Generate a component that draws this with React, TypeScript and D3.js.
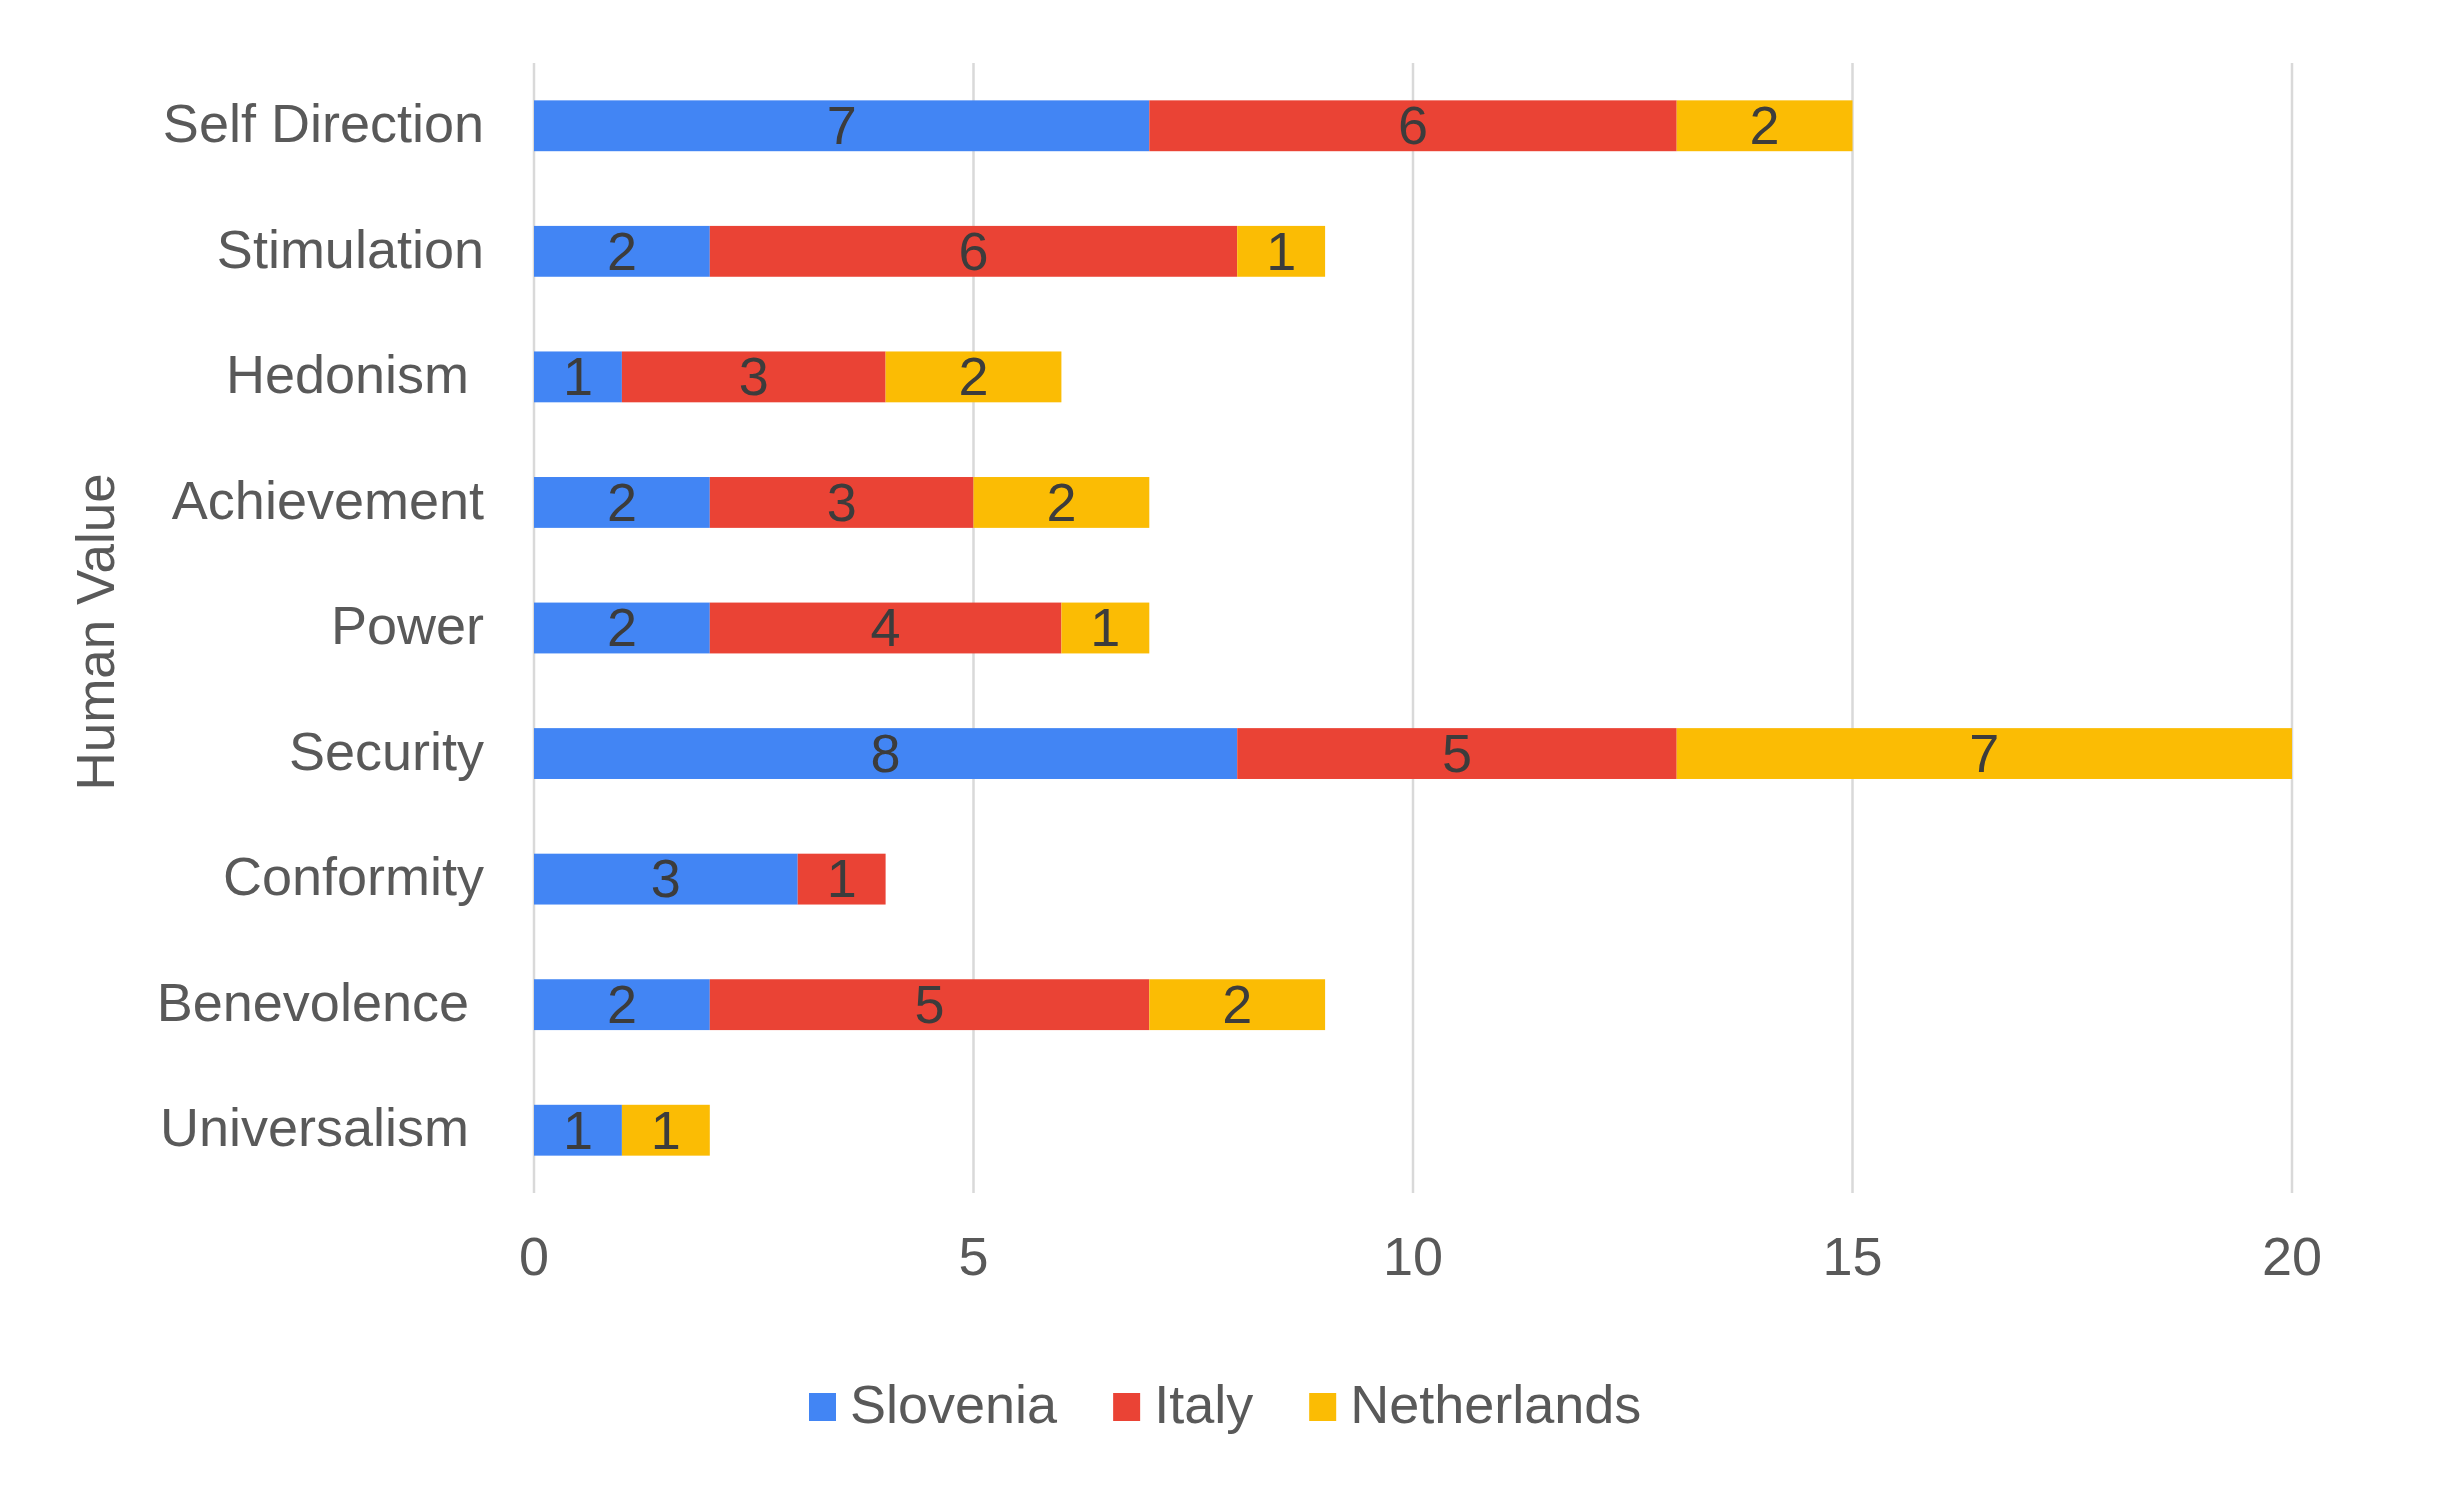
import { useEffect, useRef } from "react"
import * as d3 from "d3"

// Chart data
const categories = [
  "Self Direction",
  "Stimulation",
  "Hedonism ",
  "Achievement",
  "Power",
  "Security",
  "Conformity",
  "Benevolence ",
  "Universalism ",
]
const seriesNames = ["Slovenia", "Italy", "Netherlands"]
const slovenia = [7, 2, 1, 2, 2, 8, 3, 2, 1]
const italy = [6, 6, 3, 3, 4, 5, 1, 5, 0]
const netherlands = [2, 1, 2, 2, 1, 7, 0, 2, 1]
const xTicks = [0, 5, 10, 15, 20]
const colors = ["#4285F4", "#EA4335", "#FBBC04"]

const W = 2438
const H = 1485
const FONT = "'Liberation Sans', Arial, sans-serif"

const App = () => {
  const svgRef = useRef<SVGSVGElement>(null)

  useEffect(() => {
    if (!svgRef.current) return
    const svg = d3.select(svgRef.current)
    svg.selectAll("*").remove()

    const rows = categories.map((c, i) => ({
      category: c,
      Slovenia: slovenia[i],
      Italy: italy[i],
      Netherlands: netherlands[i],
    }))

    const x = d3.scaleLinear().domain([0, 20]).range([534, 2292])
    const y = d3
      .scaleBand<string>()
      .domain(categories)
      .range([63, 1193])
      .paddingInner(0.595)
      .paddingOuter(0.2975)

    // gridlines
    svg
      .append("g")
      .selectAll("line")
      .data(xTicks)
      .join("line")
      .attr("x1", (d) => x(d))
      .attr("x2", (d) => x(d))
      .attr("y1", 63)
      .attr("y2", 1193)
      .attr("stroke", "#d9d9d9")
      .attr("stroke-width", 2.5)

    // tick labels
    svg
      .append("g")
      .selectAll("text")
      .data(xTicks)
      .join("text")
      .attr("x", (d) => x(d))
      .attr("y", 1275)
      .attr("text-anchor", "middle")
      .attr("font-family", FONT)
      .attr("font-size", 54)
      .attr("fill", "#595959")
      .text((d) => d)

    // category labels
    svg
      .append("g")
      .selectAll("text")
      .data(categories)
      .join("text")
      .attr("x", 484)
      .attr("y", (d) => (y(d) ?? 0) + y.bandwidth() / 2)
      .attr("dy", "0.3em")
      .attr("text-anchor", "end")
      .attr("xml:space", "preserve")
      .style("white-space", "pre")
      .attr("font-family", FONT)
      .attr("font-size", 54)
      .attr("fill", "#595959")
      .text((d) => d)

    // stacked bars
    const stack = d3.stack<any>().keys(seriesNames)(rows)
    const layer = svg
      .append("g")
      .selectAll("g")
      .data(stack)
      .join("g")
      .attr("fill", (_, i) => colors[i])

    layer
      .selectAll("rect")
      .data((d) => d)
      .join("rect")
      .attr("x", (d) => x(d[0]))
      .attr("y", (d) => y(d.data.category) ?? 0)
      .attr("width", (d) => x(d[1]) - x(d[0]))
      .attr("height", y.bandwidth())

    // data labels
    const labels = svg.append("g")
    stack.forEach((s) => {
      s.forEach((d) => {
        const v = d[1] - d[0]
        if (v <= 0) return
        labels
          .append("text")
          .attr("x", (x(d[0]) + x(d[1])) / 2)
          .attr("y", (y(d.data.category) ?? 0) + y.bandwidth() / 2)
          .attr("dy", "0.34em")
          .attr("text-anchor", "middle")
          .attr("font-family", FONT)
          .attr("font-size", 54)
          .attr("fill", "#3c3c3c")
          .text(v)
      })
    })

    // y axis title
    svg
      .append("text")
      .attr("transform", `translate(114, 632) rotate(-90)`)
      .attr("text-anchor", "middle")
      .attr("font-family", FONT)
      .attr("font-size", 53)
      .attr("fill", "#595959")
      .text("Human Value")

    // legend
    const legend = svg.append("g")
    let lx = 809
    seriesNames.forEach((name, i) => {
      legend
        .append("rect")
        .attr("x", lx)
        .attr("y", 1393)
        .attr("width", 27)
        .attr("height", 28)
        .attr("fill", colors[i])
      const t = legend
        .append("text")
        .attr("x", lx + 41)
        .attr("y", 1423)
        .attr("font-family", FONT)
        .attr("font-size", 54)
        .attr("fill", "#595959")
        .text(name)
      const w = (t.node() as SVGTextElement).getComputedTextLength()
      lx += 41 + w + 56
    })
  }, [])

  return (
    <svg
      ref={svgRef}
      width={W}
      height={H}
      viewBox={`0 0 ${W} ${H}`}
      style={{ position: "absolute", left: 0, top: 0, background: "#fff" }}
    />
  )
}

export default App
